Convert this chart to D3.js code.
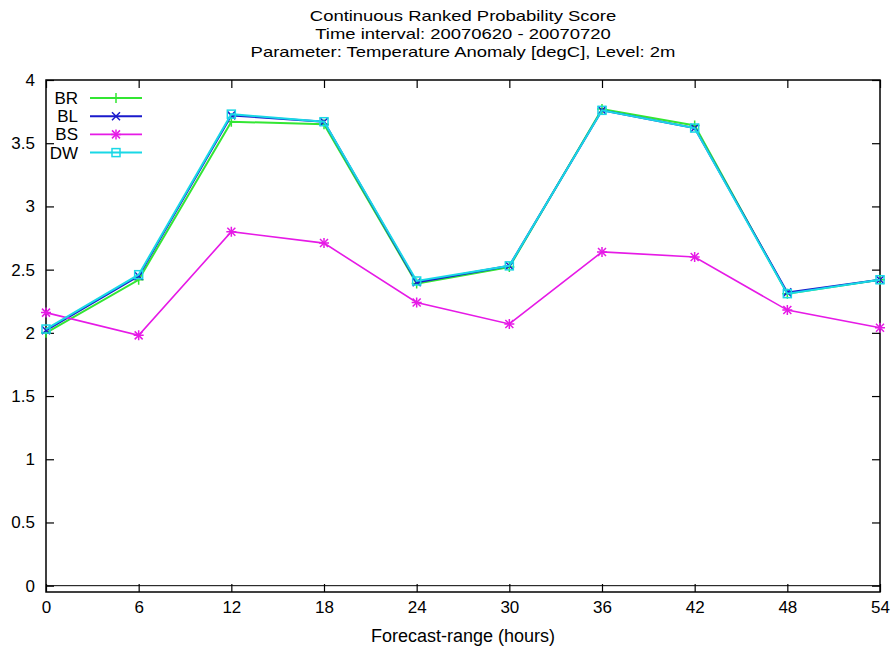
<!DOCTYPE html>
<html>
<head>
<meta charset="utf-8">
<script src="https://cdn.jsdelivr.net/npm/d3@7"></script>
<style>
  body { margin: 0; background: #fff; }
  text { font-family: "Liberation Sans", Arial, sans-serif; fill: #000; }
</style>
</head>
<body>
<svg id="chart" width="895" height="652"></svg>
<script>
// forecast range in hours
var hours = [0, 6, 12, 18, 24, 30, 36, 42, 48, 54];

// CRPS values
var BR = [2.00, 2.42, 3.67, 3.65, 2.39, 2.52, 3.77, 3.64, 2.31, 2.42];
var BL = [2.02, 2.45, 3.72, 3.67, 2.40, 2.53, 3.76, 3.62, 2.32, 2.42];
var BS = [2.16, 1.98, 2.80, 2.71, 2.24, 2.07, 2.64, 2.60, 2.18, 2.04];
var DW = [2.03, 2.46, 3.73, 3.67, 2.41, 2.53, 3.76, 3.62, 2.31, 2.42];

var yTicks = [0, 0.5, 1, 1.5, 2, 2.5, 3, 3.5, 4];

var titleLines = [
  "Continuous Ranked Probability Score",
  "Time interval: 20070620 - 20070720",
  "Parameter: Temperature Anomaly [degC], Level: 2m"
];

var series = [
  {name: "BR", values: BR, color: "#33e633", marker: "plus", width: 2},
  {name: "BL", values: BL, color: "#1a1acc", marker: "cross", width: 2},
  {name: "BS", values: BS, color: "#e61ae6", marker: "star", width: 1.6},
  {name: "DW", values: DW, color: "#19d8e6", marker: "square", width: 2}
];

var margin = {top: 80, right: 15, bottom: 60, left: 46};
var width = 895 - margin.left - margin.right;
var height = 652 - margin.top - margin.bottom;

var svg = d3.select("#chart");

var x = d3.scaleLinear().domain([0, 54]).range([0, width]);
var y = d3.scaleLinear().domain([-0.05, 4]).range([height, 0]);

var g = svg.append("g")
  .attr("transform", "translate(" + margin.left + "," + margin.top + ")");

// title (the original font is narrow but wide-set, so stretch it a bit)
svg.append("g")
  .attr("transform", "translate(" + (margin.left + width / 2) + ",0) scale(1.23,1)")
  .selectAll("text")
  .data(titleLines)
  .enter().append("text")
  .attr("x", 0)
  .attr("y", function(d, i) { return 21 + i * 18; })
  .attr("text-anchor", "middle")
  .style("font-size", "15px")
  .text(function(d) { return d; });

// zero line
g.append("line")
  .attr("x1", 0).attr("x2", width)
  .attr("y1", y(0)).attr("y2", y(0))
  .attr("stroke", "#000").attr("stroke-width", 1);

// axes with inward ticks, mirrored
var tickLen = 8;
g.append("g")
  .attr("transform", "translate(0," + height + ")")
  .call(d3.axisBottom(x).tickValues(hours).tickSize(-tickLen).tickPadding(9))
  .call(function(a) { a.select(".domain").remove(); });
g.append("g")
  .call(d3.axisTop(x).tickValues(hours).tickSize(-tickLen).tickFormat(""))
  .call(function(a) { a.select(".domain").remove(); });
g.append("g")
  .call(d3.axisLeft(y).tickValues(yTicks).tickSize(-tickLen).tickPadding(11)
    .tickFormat(d3.format("")))
  .call(function(a) { a.select(".domain").remove(); });
g.append("g")
  .attr("transform", "translate(" + width + ",0)")
  .call(d3.axisRight(y).tickValues(yTicks).tickSize(-tickLen).tickFormat(""))
  .call(function(a) { a.select(".domain").remove(); });

g.selectAll(".tick line").attr("stroke", "#000").attr("stroke-width", 1.2);
g.selectAll(".tick text").style("font-size", "17px").style("font-family", "Liberation Sans, Arial, sans-serif");

// border
g.append("rect")
  .attr("width", width).attr("height", height)
  .attr("fill", "none").attr("stroke", "#000").attr("stroke-width", 1.5);

// x label
svg.append("text")
  .attr("x", margin.left + width / 2)
  .attr("y", 642)
  .attr("text-anchor", "middle")
  .style("font-size", "18px")
  .text("Forecast-range (hours)");

function drawMarker(sel, type, color, s) {
  if (type == "plus" || type == "star") {
    sel.append("path").attr("d", "M" + (-s) + ",0H" + s + "M0," + (-s) + "V" + s)
      .attr("stroke", color).attr("stroke-width", 1.5).attr("fill", "none");
  }
  if (type == "cross" || type == "star") {
    var c = s * 0.8;
    sel.append("path").attr("d", "M" + (-c) + "," + (-c) + "L" + c + "," + c + "M" + (-c) + "," + c + "L" + c + "," + (-c))
      .attr("stroke", color).attr("stroke-width", 1.5).attr("fill", "none");
  }
  if (type == "square") {
    sel.append("rect").attr("x", -s * 0.8).attr("y", -s * 0.8)
      .attr("width", s * 1.6).attr("height", s * 1.6)
      .attr("stroke", color).attr("stroke-width", 1.5).attr("fill", "none");
  }
}

var line = d3.line()
  .x(function(d, i) { return x(hours[i]); })
  .y(function(d) { return y(d); });

series.forEach(function(s) {
  g.append("path")
    .datum(s.values)
    .attr("d", line)
    .attr("fill", "none")
    .attr("stroke", s.color)
    .attr("stroke-width", s.width);

  s.values.forEach(function(v, i) {
    var m = g.append("g").attr("transform", "translate(" + x(hours[i]) + "," + y(v) + ")");
    drawMarker(m, s.marker, s.color, 5);
  });
});

// legend
var legend = svg.append("g").attr("transform", "translate(0,98)");
series.forEach(function(s, i) {
  var row = legend.append("g").attr("transform", "translate(0," + (i * 18.2) + ")");
  row.append("text")
    .attr("x", 78).attr("y", 0).attr("dy", "0.35em")
    .attr("text-anchor", "end")
    .style("font-size", "17px")
    .text(s.name);
  row.append("line")
    .attr("x1", 90).attr("x2", 142)
    .attr("stroke", s.color).attr("stroke-width", s.width);
  var m = row.append("g").attr("transform", "translate(116,0)");
  drawMarker(m, s.marker, s.color, 5);
});
</script>
</body>
</html>
